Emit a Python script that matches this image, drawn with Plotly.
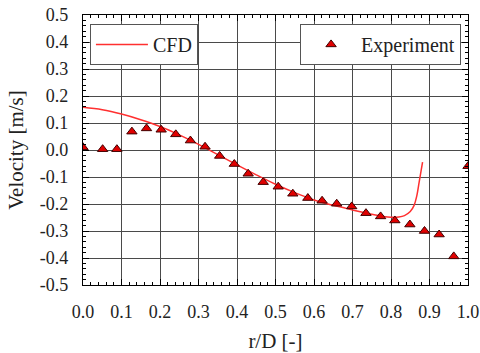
import plotly.graph_objects as go

cfd_x = [0.0, 0.05, 0.1, 0.15, 0.2, 0.25, 0.3, 0.35, 0.4, 0.45, 0.5, 0.55, 0.6, 0.65, 0.7, 0.75, 0.78, 0.8, 0.82, 0.835, 0.85, 0.86, 0.867, 0.873, 0.878, 0.882]
cfd_y = [0.158, 0.149, 0.133, 0.112, 0.087, 0.056, 0.021, -0.017, -0.055, -0.092, -0.127, -0.158, -0.185, -0.205, -0.222, -0.238, -0.246, -0.249, -0.248, -0.243, -0.228, -0.205, -0.170, -0.120, -0.078, -0.045]

exp_x = [0.0, 0.051, 0.088, 0.127, 0.165, 0.203, 0.241, 0.279, 0.317, 0.355, 0.393, 0.429, 0.468, 0.507, 0.545, 0.584, 0.621, 0.659, 0.698, 0.735, 0.773, 0.810, 0.849, 0.887, 0.925, 0.963, 1.0]
exp_y = [0.010, 0.003, 0.003, 0.068, 0.080, 0.075, 0.058, 0.035, 0.012, -0.022, -0.052, -0.088, -0.119, -0.136, -0.162, -0.178, -0.188, -0.199, -0.209, -0.234, -0.246, -0.261, -0.276, -0.300, -0.313, -0.394, -0.060]

x_ticks = [0.0, 0.1, 0.2, 0.3, 0.4, 0.5, 0.6, 0.7, 0.8, 0.9, 1.0]
y_ticks = [0.5, 0.4, 0.3, 0.2, 0.1, 0.0, -0.1, -0.2, -0.3, -0.4, -0.5]

font_family = "Liberation Serif, Times New Roman, serif"

fig = go.Figure()
fig.add_trace(go.Scatter(x=cfd_x, y=cfd_y, mode="lines", name="CFD",
                         line=dict(color="#ff3030", width=1.5, shape="spline"),
                         legend="legend"))
fig.add_trace(go.Scatter(x=exp_x, y=exp_y, mode="markers", name="Experiment",
                         marker=dict(symbol="triangle-up", size=9, color="#e00000",
                                     line=dict(color="#400000", width=1)),
                         legend="legend2"))

axis_common = dict(
    showline=True, linecolor="black", linewidth=1.2, mirror="allticks",
    ticks="inside", ticklen=6, tickcolor="black",
    showgrid=True, gridcolor="#4a4a4a", gridwidth=1.4,
    zeroline=False, automargin=False,
    tickfont=dict(family=font_family, size=18, color="#222222"),
    title_font=dict(family=font_family, size=21, color="#222222"),
    minor=dict(ticks="inside", ticklen=3, tickcolor="black", showgrid=False),
)

fig.update_xaxes(axis_common, range=[0, 1.0], tickvals=x_ticks,
                 ticktext=[f"{v:.1f}" for v in x_ticks], minor_dtick=0.02,
                 ticklabelstandoff=10,
                 title_text="r/D [-]", title_standoff=14)
fig.update_yaxes(axis_common, range=[-0.5, 0.5], tickvals=y_ticks,
                 ticktext=[f"{v:.1f}" for v in y_ticks], minor_dtick=0.02,
                 ticklabelstandoff=10,
                 title_text="Velocity [m/s]", title_standoff=10)

legend_common = dict(bgcolor="white", bordercolor="#555555", borderwidth=1,
                     font=dict(family=font_family, size=20, color="#222222"),
                     yanchor="top", y=0.967)

fig.update_layout(
    width=480, height=353,
    margin=dict(l=83, r=12, t=15, b=68),
    plot_bgcolor="white", paper_bgcolor="white",
    showlegend=True,
    legend=dict(legend_common, xanchor="left", x=0.018, itemwidth=52),
    legend2=dict(legend_common, xanchor="right", x=0.982, itemwidth=50),
)

fig.write_html("out.html",
               config={"displayModeBar": False},
               post_script="document.body.style.margin='0';document.body.style.overflow='hidden';")
